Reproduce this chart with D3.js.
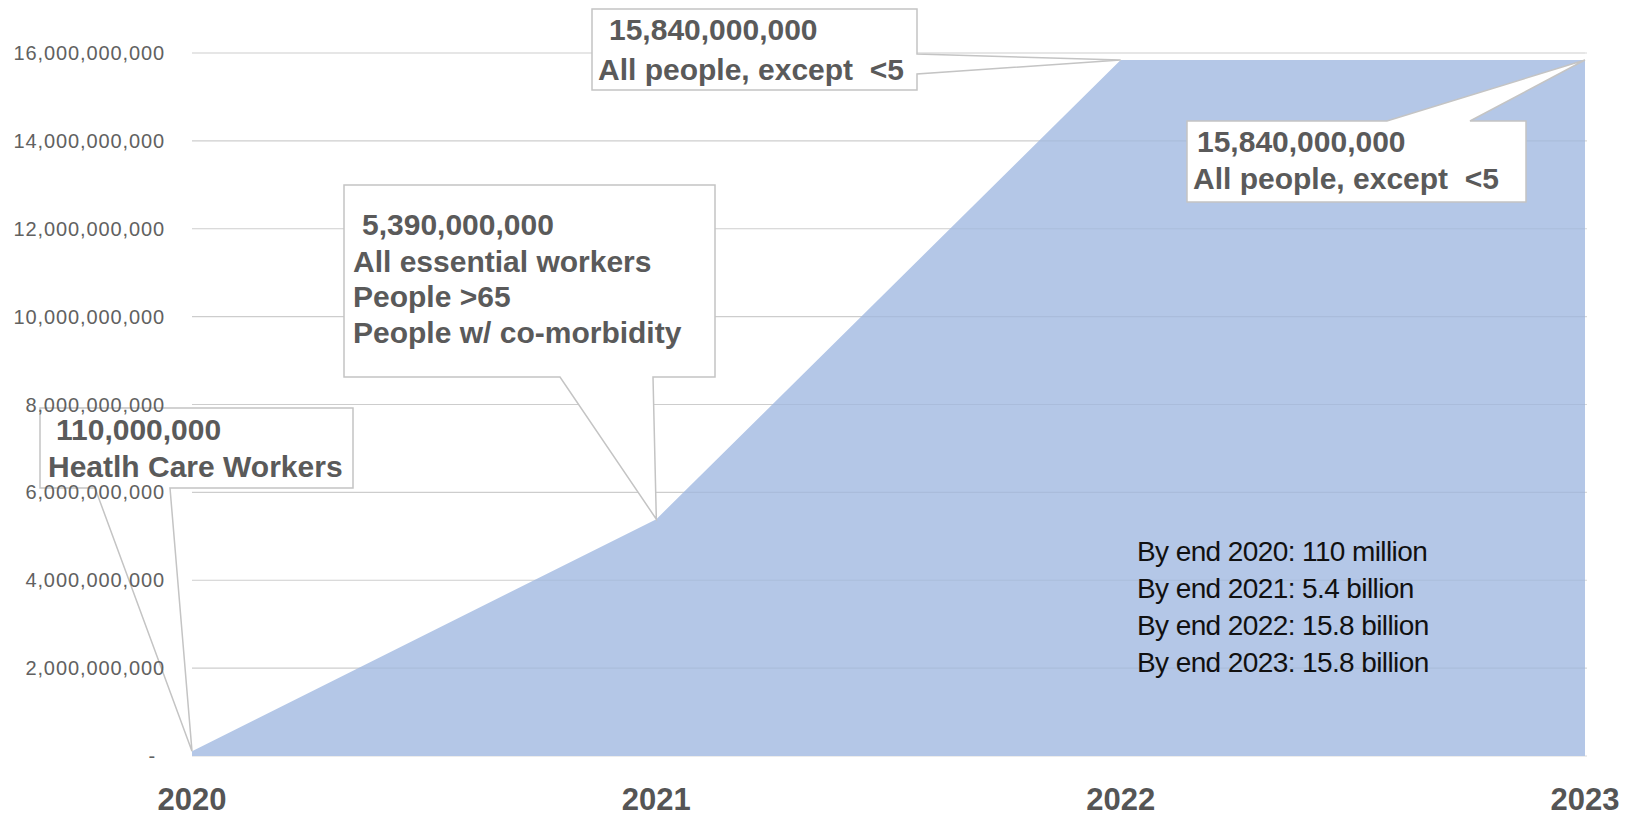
<!DOCTYPE html>
<html>
<head>
<meta charset="utf-8">
<script src="https://cdn.jsdelivr.net/npm/d3@7"></script>
<style>
  body { margin: 0; background: #fff; }
  svg { display: block; font-family: "Liberation Sans", Arial, sans-serif; }
</style>
</head>
<body>
<div id="chart"></div>
<script>
// data
const years = ["2020", "2021", "2022", "2023"];
const doses = [110000000, 5390000000, 15840000000, 15840000000];
const yTicks = [0, 2e9, 4e9, 6e9, 8e9, 10e9, 12e9, 14e9, 16e9];
const calloutYears = ["2020", "2021", "2022", "2023"];
const calloutLines = [
    ["110,000,000", "Heatlh Care Workers"],
    ["5,390,000,000", "All essential workers", "People >65", "People w/ co-morbidity"],
    ["15,840,000,000", "All people, except  <5"],
    ["15,840,000,000", "All people, except  <5"]
];
const summaryLines = [
    "By end 2020: 110 million",
    "By end 2021: 5.4 billion",
    "By end 2022: 15.8 billion",
    "By end 2023: 15.8 billion"
];

const width = 1629;
const height = 818;

const svg = d3.select("#chart")
    .append("svg")
    .attr("width", width)
    .attr("height", height);

const x = d3.scalePoint()
    .domain(years)
    .range([192, 1585]);

const y = d3.scaleLinear()
    .domain([0, 16e9])
    .range([756, 53]);

const data = years.map((yr, i) => ({ year: yr, value: doses[i] }));

// grid lines
svg.append("g")
    .selectAll("line")
    .data(yTicks)
    .join("line")
    .attr("x1", 192)
    .attr("x2", 1587)
    .attr("y1", d => y(d))
    .attr("y2", d => y(d))
    .attr("stroke", "#d9d9d9")
    .attr("stroke-width", 1.2);

// area
const area = d3.area()
    .x(d => x(d.year))
    .y0(y(0))
    .y1(d => y(d.value));

svg.append("path")
    .datum(data)
    .attr("d", area)
    .attr("fill", "#b4c7e7");

// faint grid over the area
svg.append("g")
    .selectAll("line")
    .data(yTicks.slice(1))
    .join("line")
    .attr("x1", 192)
    .attr("x2", 1585)
    .attr("y1", d => y(d))
    .attr("y2", d => y(d))
    .attr("stroke", "#000")
    .attr("stroke-opacity", 0.05)
    .attr("stroke-width", 1.2);

// callouts: box, pointer side and base, text placement
const boxes = [
    { x: 40, y: 408, w: 313, h: 80, side: "bottom", b1: 95, b2: 170,
      tx: [56, 48], ty: [440, 477] },
    { x: 344, y: 185, w: 371, h: 192, side: "bottom", b1: 560, b2: 653,
      tx: [362, 353, 353, 353], ty: [235, 272, 307, 343] },
    { x: 592, y: 9, w: 325, h: 81, side: "right", b1: 54, b2: 74,
      tx: [609, 598], ty: [40, 80] },
    { x: 1187, y: 121, w: 339, h: 81, side: "top", b1: 1387, b2: 1470,
      tx: [1197, 1193], ty: [152, 189] }
];

function calloutPath(b, tip) {
    const r = b.x + b.w, bt = b.y + b.h;
    const p = d3.path();
    p.moveTo(b.x, b.y);
    if (b.side === "top") {
        p.lineTo(b.b1, b.y);
        p.lineTo(tip[0], tip[1]);
        p.lineTo(b.b2, b.y);
    }
    p.lineTo(r, b.y);
    if (b.side === "right") {
        p.lineTo(r, b.b1);
        p.lineTo(tip[0], tip[1]);
        p.lineTo(r, b.b2);
    }
    p.lineTo(r, bt);
    if (b.side === "bottom") {
        p.lineTo(b.b2, bt);
        p.lineTo(tip[0], tip[1]);
        p.lineTo(b.b1, bt);
    }
    p.lineTo(b.x, bt);
    p.closePath();
    return p.toString();
}

const callouts = svg.append("g")
    .selectAll("g")
    .data(boxes)
    .join("g");

callouts.append("path")
    .attr("d", (b, i) => {
        const idx = years.indexOf(calloutYears[i]);
        return calloutPath(b, [x(calloutYears[i]), y(doses[idx])]);
    })
    .attr("fill", "#fff")
    .attr("stroke", "#c4c4c4")
    .attr("stroke-width", 1.5)
    .attr("stroke-linejoin", "miter");

callouts.each(function(b, i) {
    d3.select(this).selectAll("text")
        .data(calloutLines[i])
        .join("text")
        .attr("x", (d, j) => b.tx[j])
        .attr("y", (d, j) => b.ty[j])
        .attr("font-size", 30)
        .attr("font-weight", "bold")
        .attr("fill", "#5a5a5a")
        .style("white-space", "pre")
        .text(d => d);
});

// y axis labels
svg.append("g")
    .selectAll("text")
    .data(yTicks)
    .join("text")
    .attr("x", d => d === 0 ? 156 : 165)
    .attr("y", d => y(d))
    .attr("dy", "0.35em")
    .attr("text-anchor", "end")
    .attr("font-size", 20)
    .attr("letter-spacing", 0.9)
    .attr("fill", "#616161")
    .text(d => d === 0 ? "-" : d3.format(",")(d));

// x axis labels
svg.append("g")
    .selectAll("text")
    .data(years)
    .join("text")
    .attr("x", d => x(d))
    .attr("y", 810)
    .attr("text-anchor", "middle")
    .attr("font-size", 31)
    .attr("font-weight", "bold")
    .attr("fill", "#555")
    .text(d => d);

// summary text
svg.append("g")
    .selectAll("text")
    .data(summaryLines)
    .join("text")
    .attr("x", 1137)
    .attr("y", (d, i) => 561 + i * 37)
    .attr("font-size", 28)
    .attr("letter-spacing", -0.6)
    .attr("fill", "#111")
    .text(d => d);
</script>
</body>
</html>
